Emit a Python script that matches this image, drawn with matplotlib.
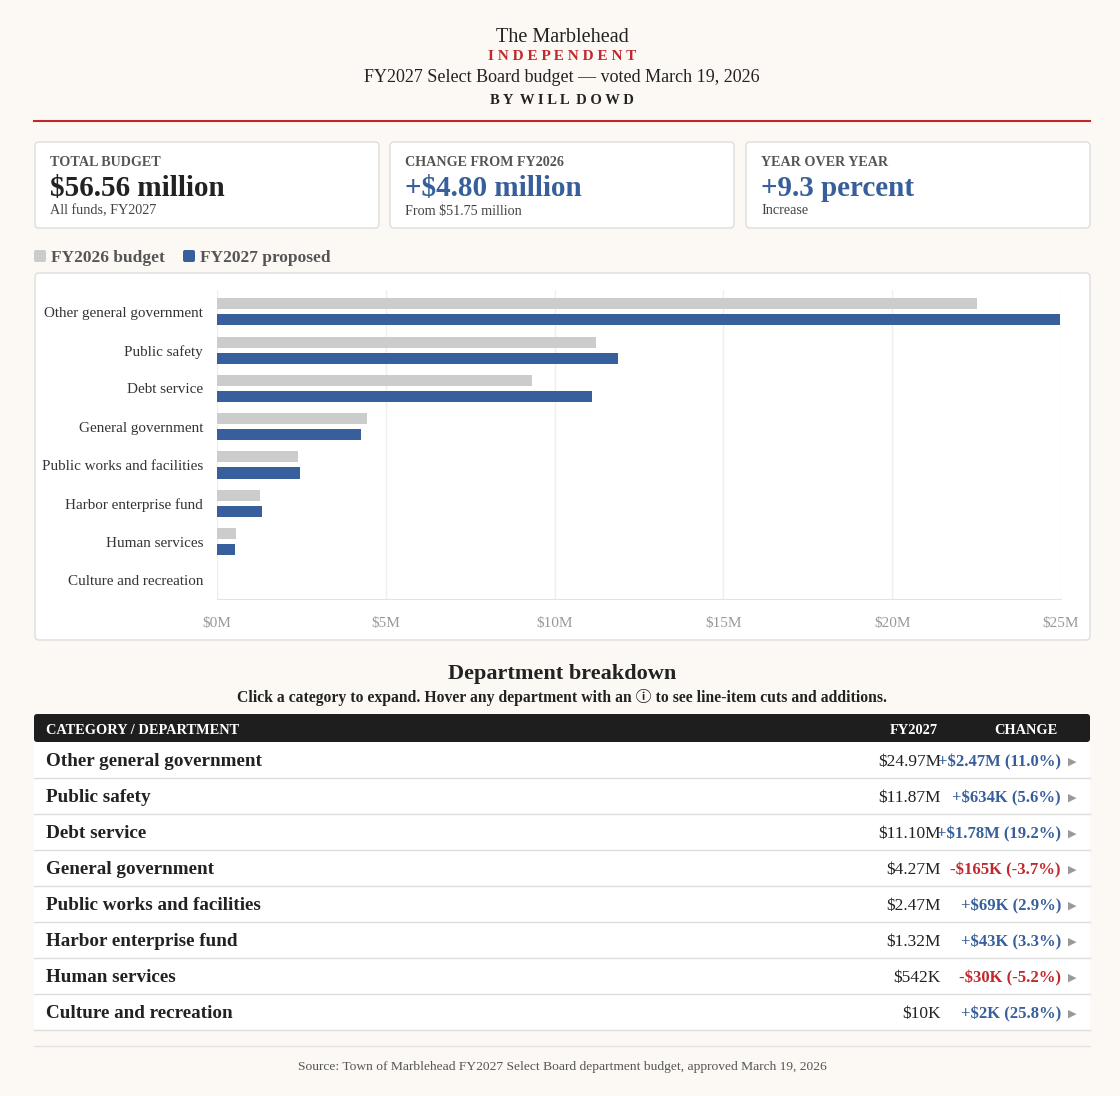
import matplotlib.pyplot as plt
from matplotlib.patches import FancyBboxPatch, Rectangle

# category data (millions of dollars)
categories = ['Other general government', 'Public safety', 'Debt service', 'General government',
              'Public works and facilities', 'Harbor enterprise fund', 'Human services',
              'Culture and recreation']
fy2026 = [22.50, 11.24, 9.32, 4.44, 2.40, 1.28, 0.572, 0.008]
fy2027 = [24.97, 11.87, 11.10, 4.27, 2.47, 1.32, 0.542, 0.010]
fy2027_labels = ['$24.97M', '$11.87M', '$11.10M', '$4.27M', '$2.47M', '$1.32M', '$542K', '$10K']
change_labels = ['+$2.47M (11.0%)', '+$634K (5.6%)', '+$1.78M (19.2%)', '-$165K (-3.7%)',
                 '+$69K (2.9%)', '+$43K (3.3%)', '-$30K (-5.2%)', '+$2K (25.8%)']
xticks = [0, 5, 10, 15, 20, 25]

card_labels = ['TOTAL BUDGET', 'CHANGE FROM FY2026', 'YEAR OVER YEAR']
card_values = ['$56.56 million', '+$4.80 million', '+9.3 percent']
card_subs = ['All funds, FY2027', 'From $51.75 million', 'Increase']

BG = '#fcf9f4'
GRAY = '#cccccc'
BLUE = '#365f9b'
RED = '#c0282d'
INK = '#222222'
SERIF = ['Liberation Serif', 'DejaVu Serif', 'Noto Sans CJK SC']
plt.rcParams['font.family'] = SERIF

fig = plt.figure(figsize=(11.2, 10.96), dpi=100, facecolor=BG)
bg = fig.add_axes([0, 0, 1, 1])
bg.set_xlim(0, 1120)
bg.set_ylim(1096, 0)
bg.axis('off')
bg.set_facecolor(BG)

def t(x, y, s, size, **kw):
    kw.setdefault('color', INK)
    kw.setdefault('va', 'center')
    bg.text(x, y + 2, s, fontsize=size, **kw)

# header
t(562, 35, 'The Marblehead', 14.5, ha='center')
t(562, 54, 'I N D E P E N D E N T', 11, ha='center', color=RED, weight='bold')
t(562, 76, 'FY2027 Select Board budget \u2014 voted March 19, 2026', 13, ha='center')
t(562, 98, 'B Y  W I L L  D O W D', 10.5, ha='center', weight='bold')
bg.plot([34, 1090], [121, 121], color=RED, lw=1.5)

# summary cards
card_x = [35, 390, 746]
for i in range(3):
    x0 = card_x[i]
    bg.add_patch(FancyBboxPatch((x0, 142), 344, 86, boxstyle='round,pad=0,rounding_size=4',
                                facecolor='white', edgecolor='#dddddd', lw=1))
    t(x0 + 15, 161, card_labels[i], 10.2, weight='bold', color='#555555')
    t(x0 + 15, 186, card_values[i], 21, weight='bold', color=INK if i == 0 else BLUE)
    t(x0 + 15, 209, card_subs[i], 10.2, color='#444444')

# legend
bg.add_patch(FancyBboxPatch((34, 250), 12, 12, boxstyle='round,pad=0,rounding_size=2',
                            facecolor=GRAY, edgecolor='none'))
t(51, 256, 'FY2026 budget', 12.5, weight='bold', color='#555555')
bg.add_patch(FancyBboxPatch((183, 250), 12, 12, boxstyle='round,pad=0,rounding_size=2',
                            facecolor=BLUE, edgecolor='none'))
t(200, 256, 'FY2027 proposed', 12.5, weight='bold', color='#555555')

# chart card
bg.add_patch(FancyBboxPatch((35, 273), 1055, 367, boxstyle='round,pad=0,rounding_size=4',
                            facecolor='white', edgecolor='#dddddd', lw=1))

ax = fig.add_axes([217 / 1120, 1 - 599 / 1096, (1061 - 217) / 1120, (599 - 290) / 1096])
ax.set_facecolor('none')
ypos = list(range(len(categories)))
ax.barh([y - 0.21 for y in ypos], fy2026, height=0.29, color=GRAY, zorder=3)
ax.barh([y + 0.21 for y in ypos], fy2027, height=0.29, color=BLUE, zorder=3)
ax.set_xlim(0, 25)
ax.set_ylim(7.5, -0.57)
ax.set_yticks(ypos)
ax.set_yticklabels(categories, fontsize=10.9, color='#333333')
ax.set_xticks(xticks)
ax.set_xticklabels(['$%dM' % v for v in xticks], fontsize=11, color='#999999')
ax.tick_params(length=0)
ax.tick_params(axis='y', pad=10)
ax.tick_params(axis='x', pad=13)
ax.grid(axis='x', color='#eeeeee', lw=1, zorder=0)
for s in ['top', 'right', 'left']:
    ax.spines[s].set_visible(False)
ax.spines['bottom'].set_color('#e3e3e3')

# department table
t(562, 672, 'Department breakdown', 16, ha='center', weight='bold')
t(562, 695, 'Click a category to expand. Hover any department with an \u24d8 to see line-item cuts and additions.',
  11.3, ha='center', weight='bold')
bg.add_patch(FancyBboxPatch((34, 714), 1056, 28, boxstyle='round,pad=0,rounding_size=3',
                            facecolor='#1e1e1e', edgecolor='none'))
t(46, 728, 'CATEGORY / DEPARTMENT', 10.4, weight='bold', color='white')
t(914, 728, 'FY2027', 10.4, weight='bold', color='white', ha='center')
t(1026, 728, 'CHANGE', 10.4, weight='bold', color='white', ha='center')

for i, name in enumerate(categories):
    top = 742 + 36 * i
    bg.add_patch(Rectangle((34, top), 1056, 36, facecolor='white', edgecolor='none'))
    bg.plot([34, 1090], [top + 36, top + 36], color='#dddddd', lw=1)
    yc = top + 18
    t(46, yc, name, 13.8, weight='bold')
    t(941, yc, fy2027_labels[i], 12.5, ha='right')
    t(1061, yc, change_labels[i], 12, ha='right', weight='bold',
      color=RED if change_labels[i].startswith('-') else BLUE)
    t(1068, yc, '\u25b6', 8, color='#999999', family=['DejaVu Sans'])

bg.plot([34, 1090], [1046, 1046], color='#e3e3e3', lw=1)
t(562, 1065, 'Source: Town of Marblehead FY2027 Select Board department budget, approved March 19, 2026',
  9.7, ha='center', color='#555555')

fig.savefig('out.png', dpi=100, facecolor=BG)
